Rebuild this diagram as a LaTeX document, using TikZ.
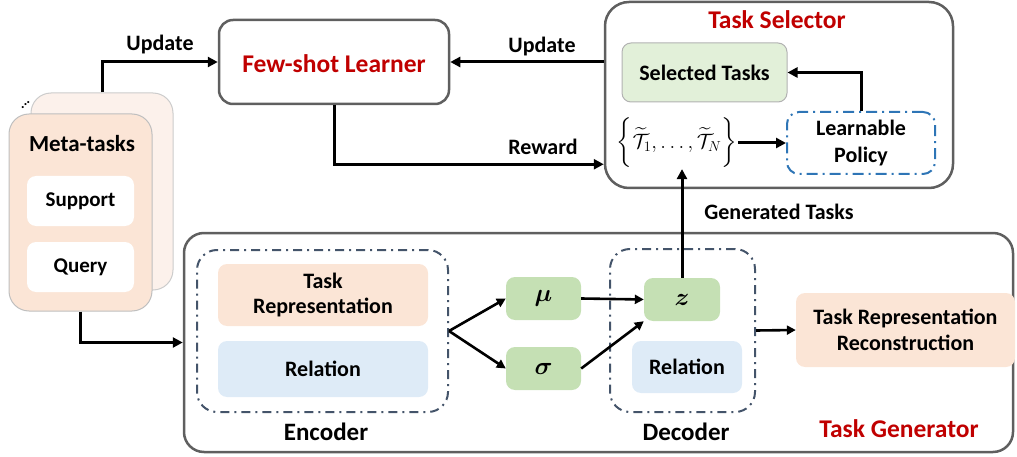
\documentclass[tikz,border=0pt]{standalone}
\usepackage{amsmath}
\usepackage{fontspec}
\setmainfont{Carlito}
\usepackage{bm}
\usetikzlibrary{arrows.meta,calc}
\definecolor{myred}{HTML}{C00000}
\definecolor{peach}{HTML}{FBE5D6}
\definecolor{peachlight}{HTML}{FCF1EB}
\definecolor{lblue}{HTML}{DEEBF7}
\definecolor{lgreen}{HTML}{C5E0B4}
\definecolor{pgreen}{HTML}{E2F0D9}
\definecolor{frame}{HTML}{5F5F5F}
\definecolor{dd}{HTML}{44546A}
\definecolor{ddblue}{HTML}{2E75B6}
\begin{document}
\begin{tikzpicture}[x=1pt,y=-1pt,
  lbl/.style={font=\bfseries\fontsize{22}{26}\selectfont, text=black},
  boxtxt/.style={font=\bfseries\fontsize{22}{25}\selectfont, align=center, text=black},
  redtitle/.style={font=\bfseries\fontsize{25.5}{30}\selectfont, text=myred},
  bigframe/.style={draw=frame, line width=2.5pt, rounded corners=20pt, inner sep=0pt},
  fillbox/.style={rounded corners=9pt, inner sep=0pt},
  ddbox/.style={draw=dd, line width=2pt, dash pattern=on 9pt off 5pt on 2pt off 5pt, rounded corners=20pt, inner sep=0pt},
  mathtxt/.style={font=\fontsize{24}{28}\selectfont},
  arr/.style={line width=3pt, -{Triangle[length=10pt,width=10pt]}},
  arrs/.style={line width=2.6pt, -{Triangle[length=9pt,width=9pt]}}
]
\useasboundingbox (0,0) rectangle (1017,457);

% ---------- Few-shot learner ----------
\node[bigframe, rounded corners=14pt, minimum width=230pt, minimum height=84pt] (fewshot) at (334,62) {};
\node[redtitle] (fewtxt) at (334,64) {Few-shot Learner};

% ---------- Task selector ----------
\node[bigframe, rounded corners=24pt, minimum width=348pt, minimum height=186pt] (selector) at (779,95) {};
\node[redtitle] (seltitle) at (777,20) {Task Selector};
\node[fillbox, fill=pgreen, draw=black!30, line width=1pt, minimum width=165pt, minimum height=59pt, boxtxt] (selected) at (704.5,72.5) {Selected Tasks};
\node[draw=ddblue, line width=2pt, dash pattern=on 11pt off 5pt on 2pt off 5pt, rounded corners=12pt, inner sep=0pt, minimum width=148pt, minimum height=62pt, boxtxt, font=\bfseries\fontsize{22}{27}\selectfont] (policy) at (861,143) {Learnable\\Policy};
\node[inner sep=1pt, font=\fontsize{22}{24}\selectfont] (set) at (677,143) {$\biggl\{\widetilde{\mathcal{T}}_1,\dots,\widetilde{\mathcal{T}}_N\biggr\}$};

% ---------- Meta-tasks ----------
\node[fillbox, rounded corners=20pt, fill=peachlight, draw=black!20, line width=1pt, minimum width=142pt, minimum height=197pt] (metaback) at (102,191.5) {};
\node[fillbox, rounded corners=20pt, fill=peach, draw=black!25, line width=1pt, minimum width=143pt, minimum height=197pt] (metafront) at (80.5,212.5) {};
\node[font=\bfseries\fontsize{14}{16}\selectfont, rotate=43, inner sep=0pt] (dots) at (25.5,105) {...};
\node[font=\bfseries\fontsize{23}{26}\selectfont] (metatxt) at (82,144) {Meta-tasks};
\node[fillbox, fill=white, minimum width=107pt, minimum height=50pt, boxtxt, font=\bfseries\fontsize{21}{24}\selectfont] (support) at (80.5,201) {Support};
\node[fillbox, fill=white, minimum width=107pt, minimum height=50pt, boxtxt, font=\bfseries\fontsize{21}{24}\selectfont] (query) at (80.5,267) {Query};

% ---------- Task generator ----------
\node[bigframe, minimum width=829pt, minimum height=219pt] (taskgen) at (598.5,342.5) {};
\node[redtitle] (gentitle) at (899,429) {Task Generator};

\node[ddbox, minimum width=251pt, minimum height=162pt] (encoder) at (322.5,331) {};
\node[fillbox, fill=peach, minimum width=210pt, minimum height=62pt, boxtxt] (taskrep) at (323,295) {Task\\Representation};
\node[fillbox, fill=lblue, minimum width=210pt, minimum height=56pt, boxtxt] (relenc) at (323,369) {Relation};
\node[font=\bfseries\fontsize{25}{28}\selectfont] (enclbl) at (326,432) {Encoder};

\node[fillbox, fill=lgreen, minimum width=75pt, minimum height=43pt, mathtxt] (mu) at (543.5,298.5) {$\bm{\mu}$};
\node[fillbox, fill=lgreen, minimum width=75pt, minimum height=43pt, mathtxt] (sigma) at (543.5,368.5) {$\bm{\sigma}$};

\node[ddbox, minimum width=145pt, minimum height=163pt] (decoder) at (682.5,330.5) {};
\node[fillbox, fill=lgreen, minimum width=76pt, minimum height=43pt, mathtxt] (z) at (682,299.5) {$\bm{z}$};
\node[fillbox, fill=lblue, minimum width=110pt, minimum height=52pt, boxtxt] (reldec) at (687,367) {Relation};
\node[font=\bfseries\fontsize{25}{28}\selectfont] (declbl) at (686,432) {Decoder};

\node[fillbox, fill=peach, minimum width=219pt, minimum height=74pt, boxtxt, font=\bfseries\fontsize{22}{26}\selectfont] (recon) at (905.5,330) {Task Representation\\Reconstruction};

% ---------- labels ----------
\node[lbl] (upd1) at (160,45) {Update};
\node[lbl] (upd2) at (542,47) {Update};
\node[lbl] (reward) at (543,147) {Reward};
\node[lbl] (gentasks) at (779,212) {Generated Tasks};

% ---------- connectors ----------
\draw[arr] (metaback.north) |- (fewshot.west);
\draw[arr] (selector.west |- fewshot.east) -- (fewshot.east);
\draw[arr] (fewshot.south) |- ([yshift=25pt]selector.south west);
\draw[arr] (metafront.south) |- (taskgen.west);
\draw[arr] (set.east) -- (policy.west);
\draw[arr] (policy.north) |- (selected.east);
\draw[arr] (z.north) -- (z.north |- set.south);
\draw[arrs] (encoder.east) -- (mu.west);
\draw[arrs] (encoder.east) -- (sigma.west);
\draw[arrs] (mu.east) -- (z.west);
\draw[arrs] (sigma.east) -- (z.south west);
\draw[arrs] (decoder.east) -- (recon.west);
\end{tikzpicture}
\end{document}
